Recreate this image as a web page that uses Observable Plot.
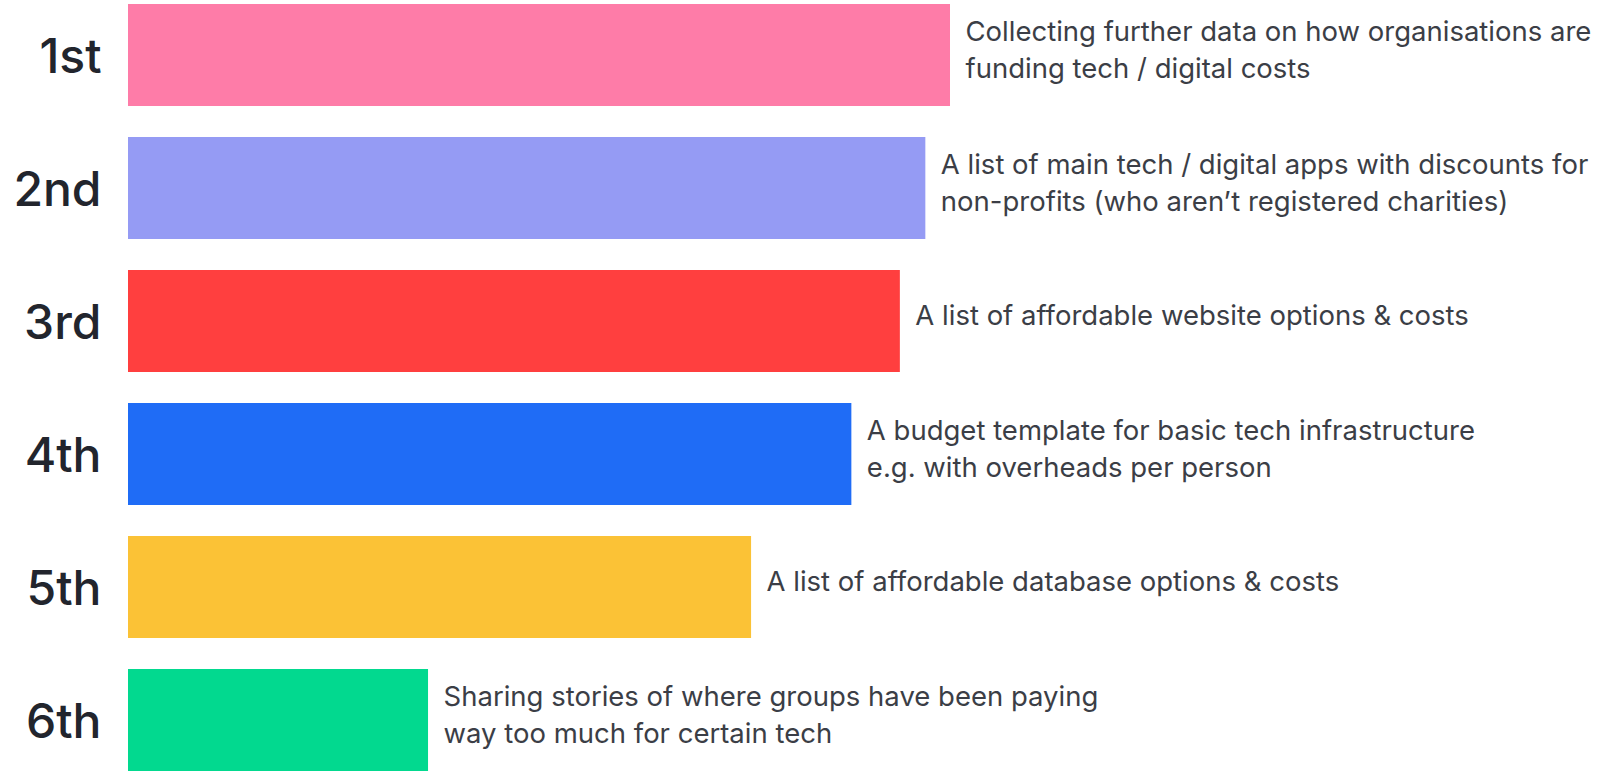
<!DOCTYPE html>
<html>
<head>
<meta charset="utf-8">
<script src="https://cdn.jsdelivr.net/npm/d3@7"></script>
<script src="https://cdn.jsdelivr.net/npm/@observablehq/plot@0.6"></script>
<style>
  html, body { margin: 0; padding: 0; background: #ffffff; }
  #chart svg { display: block; }
</style>
</head>
<body>
<div id="chart"></div>
<script>
const ranks = ["1st", "2nd", "3rd", "4th", "5th", "6th"];
const scores = [100, 97.0, 93.9, 88.0, 75.8, 36.5];
const descriptions = [
  "Collecting further data on how organisations are\nfunding tech / digital costs",
  "A list of main tech / digital apps with discounts for\nnon-profits (who aren’t registered charities)",
  "A list of affordable website options & costs",
  "A budget template for basic tech infrastructure\ne.g. with overheads per person",
  "A list of affordable database options & costs",
  "Sharing stories of where groups have been paying\nway too much for certain tech"
];
const colors = ["#fe7ca8", "#959bf4", "#ff3f3f", "#1f6cf6", "#fbc236", "#02d98f"];

const data = ranks.map((r, i) => ({rank: r, score: scores[i], desc: descriptions[i], color: colors[i]}));

const chart = Plot.plot({
  width: 1614,
  height: 778,
  marginLeft: 128,
  marginRight: 664,
  marginTop: 3,
  marginBottom: 5,
  style: {fontFamily: "Inter, sans-serif", background: "#ffffff"},
  x: {domain: [0, 100], axis: null},
  y: {domain: ranks, paddingInner: 0.23, paddingOuter: 0, axis: null},
  marks: [
    Plot.barX(data, {x: "score", y: "rank", fill: "color"}),
    Plot.axisY({tickSize: 0, tickPadding: 27, fontSize: 48, fontWeight: 500, fontFamily: "Inter, sans-serif", fill: "#22252d", label: null, dy: 2}),
    Plot.text(data, {x: "score", y: "rank", text: "desc", textAnchor: "start", dx: 15, dy: -8, fontSize: 27.5, fontFamily: "Inter, sans-serif", lineHeight: 1.36, fill: "#3b3e46"})
  ]
});
document.getElementById("chart").appendChild(chart);
</script>
</body>
</html>
